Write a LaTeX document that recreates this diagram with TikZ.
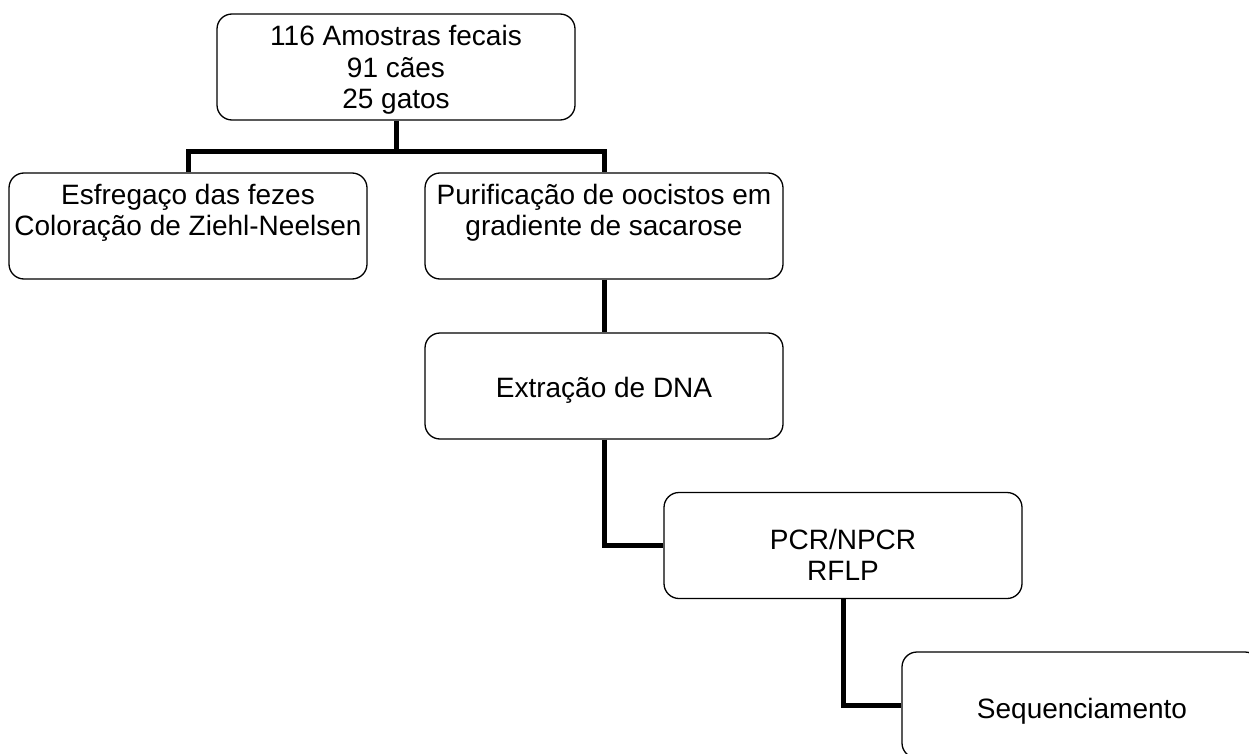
\documentclass[tikz,border=0pt]{standalone}
\usepackage{fontspec}
\setmainfont{Liberation Sans}
\begin{document}
\begin{tikzpicture}[x=1pt,y=-1pt,
  box/.style={draw, rounded corners=15pt, line width=1.3pt, inner sep=0pt,
    minimum width=358pt, minimum height=106pt},
  lbl/.style={align=center, inner sep=0pt},
  conn/.style={line width=5pt, line join=miter},
  font=\fontsize{28}{31.5}\selectfont]
\useasboundingbox (0,0) rectangle (1249,754);
\node[box] (top) at (396,67) {};
\node[lbl] (toptxt) at (396,70) {116 Amostras fecais\\91 cães\\25 gatos};
\node[box] (left) at (188,226) {};
\node[lbl] (lefttxt) at (188,213) {Esfregaço das fezes\\Coloração de Ziehl-Neelsen};
\node[box] (mid) at (604,226) {};
\node[lbl] (midtxt) at (604,213) {Purificação de oocistos em\\gradiente de sacarose};
\node[box] (ext) at (604,386) {};
\node[lbl] (exttxt) at (604,390) {Extração de DNA};
\node[box] (pcr) at (843,545.5) {};
\node[lbl] (pcrtxt) at (843,555) {PCR/NPCR\\RFLP};
\node[box] (seq) at (1081,705) {};
\node[lbl] (seqtxt) at (1082,711) {Sequenciamento};
\coordinate (j) at (396,152);
\draw[conn] (top.south) -- (j);
\draw[conn] (left.north) |- (j) -| (mid.north);
\draw[conn] (mid.south) -- (ext.north);
\draw[conn] (ext.south) |- (pcr.west);
\draw[conn] (pcr.south) |- (seq.west);
\end{tikzpicture}
\end{document}
